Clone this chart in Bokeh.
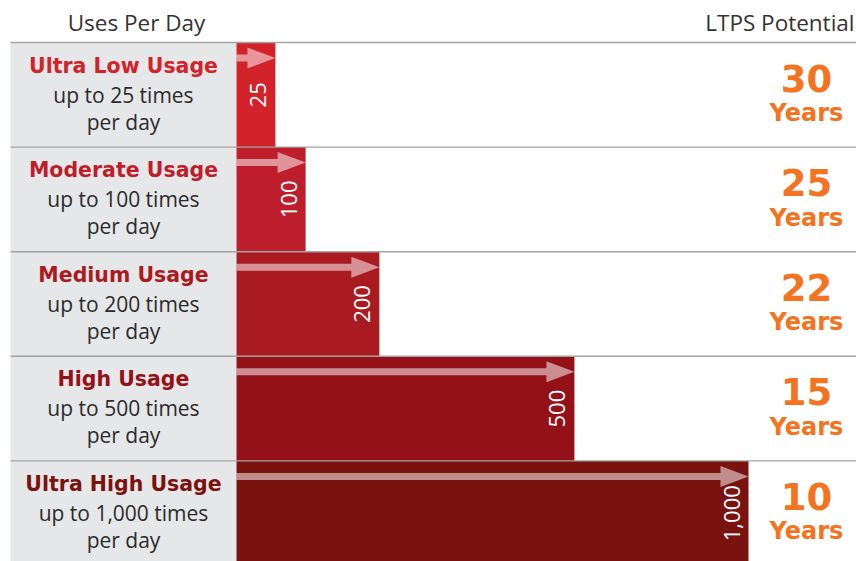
import math
from bokeh.plotting import figure
from bokeh.models import Range1d, ColumnDataSource
from bokeh.core.properties import value
from bokeh.embed import file_html
from bokeh.resources import INLINE

# ---------------- data ----------------
categories = ["Ultra Low Usage", "Moderate Usage", "Medium Usage", "High Usage", "Ultra High Usage"]
uses_per_day = [25, 100, 200, 500, 1000]
value_labels = ["25", "100", "200", "500", "1,000"]
usage_lines = ["up to 25 times", "up to 100 times", "up to 200 times", "up to 500 times", "up to 1,000 times"]
per_day = ["per day", "per day", "per day", "per day", "per day"]
# bar lengths as drawn in the source graphic (not proportional), in "uses" units where 1,000 is the longest bar
bar_length_drawn = [76, 135, 279, 660, 1000]
ltps_years = [30, 25, 22, 15, 10]
bar_colors = ["#d2232a", "#be1e2b", "#a91b21", "#951118", "#7a1210"]

# ---------------- layout (pixels) ----------------
W, H = 856, 561
ORIGIN_PX = 236.0          # screen x of the bar origin
PX_PER_UNIT = 0.512        # 1000 units -> 512 px
TOP_PX = 42.0              # screen y of first row line
ROW_PX = 104.6             # row height

def X(px):
    return (px - ORIGIN_PX) / PX_PER_UNIT

def Y(px):
    return (px - TOP_PX) / ROW_PX

x0, x1 = X(0), X(W)
y_bottom, y_top = Y(H), Y(0)

p = figure(width=W, height=H, output_backend="svg", toolbar_location=None,
           x_range=Range1d(x0, x1), y_range=Range1d(y_bottom, y_top),
           min_border=0, min_border_left=0, min_border_right=0,
           min_border_top=0, min_border_bottom=0)
p.axis.visible = False
p.grid.visible = False
p.outline_line_color = None
p.background_fill_color = "white"
p.border_fill_color = "white"

n = len(categories)
rows = list(range(n))
centers = [i + 0.5 for i in rows]

# grey label panel
p.quad(left=X(10), right=0, top=0, bottom=y_bottom, fill_color="#e6e7e8", line_color=None)

# bars
src = ColumnDataSource(dict(y=centers, right=bar_length_drawn, color=bar_colors,
                            label=value_labels, cat=categories, uses=uses_per_day))
p.hbar(y="y", left=0, right="right", height=1.0, fill_color="color", line_color=None, source=src)

# arrows (shaft + head as one polygon)
head_len = 28 / PX_PER_UNIT
shaft_half = 3.5 / ROW_PX
head_half = 10.5 / ROW_PX
xs, ys = [], []
for i, L in zip(rows, bar_length_drawn):
    yc = i + 15.5 / ROW_PX
    xs.append([0, L - head_len, L - head_len, L, L - head_len, L - head_len, 0])
    ys.append([yc - shaft_half, yc - shaft_half, yc - head_half, yc, yc + head_half, yc + shaft_half, yc + shaft_half])
p.patches(xs, ys, fill_color="white", fill_alpha=0.52, line_color=None)

# separator lines
p.segment(x0=[X(10)] * n, x1=[x1] * n, y0=rows, y1=rows, line_color="#a3a3a3", line_width=1.4)

# rotated value labels inside bars
p.text(x=[L - 17 / PX_PER_UNIT for L in bar_length_drawn], y=centers, text=value_labels,
       angle=math.pi / 2, text_align="center", text_baseline="middle",
       text_color="white", text_font=value("Open Sans"), text_font_size=value("22px"))

# left category labels
label_x = X(123)
p.text(x=[label_x] * n, y=[i + 23 / ROW_PX for i in rows], text=categories,
       text_align="center", text_baseline="middle", text_color=bar_colors,
       text_font=value("DejaVu Sans"), text_font_style="bold", text_font_size=value("20.5px"))
p.text(x=[label_x] * n, y=[i + 52 / ROW_PX for i in rows], text=usage_lines,
       text_align="center", text_baseline="middle", text_color="#2b2b2b",
       text_font=value("Open Sans"), text_font_size=value("21px"))
p.text(x=[label_x] * n, y=[i + 79 / ROW_PX for i in rows], text=per_day,
       text_align="center", text_baseline="middle", text_color="#2b2b2b",
       text_font=value("Open Sans"), text_font_size=value("21px"))

# LTPS years on the right
yrs_x = X(806)
p.text(x=[yrs_x] * n, y=[i + 35.5 / ROW_PX for i in rows], text=[str(v) for v in ltps_years],
       text_align="center", text_baseline="middle", text_color="#f37321",
       text_font=value("DejaVu Sans"), text_font_style="bold", text_font_size=value("37px"))
p.text(x=[yrs_x] * n, y=[i + 70.5 / ROW_PX for i in rows], text=["Years"] * n,
       text_align="center", text_baseline="middle", text_color="#f37321",
       text_font=value("DejaVu Sans"), text_font_style="bold", text_font_size=value("24px"))

# column headers
p.text(x=[X(136)], y=[Y(21.5)], text=["Uses Per Day"], text_align="center", text_baseline="middle",
       text_color="#333333", text_font=value("Open Sans"), text_font_size=value("22.5px"))
p.text(x=[X(854)], y=[Y(21.5)], text=["LTPS Potential"], text_align="right", text_baseline="middle",
       text_color="#333333", text_font=value("Open Sans"), text_font_size=value("22.5px"))

open("out.html", "w").write(file_html(p, INLINE))
